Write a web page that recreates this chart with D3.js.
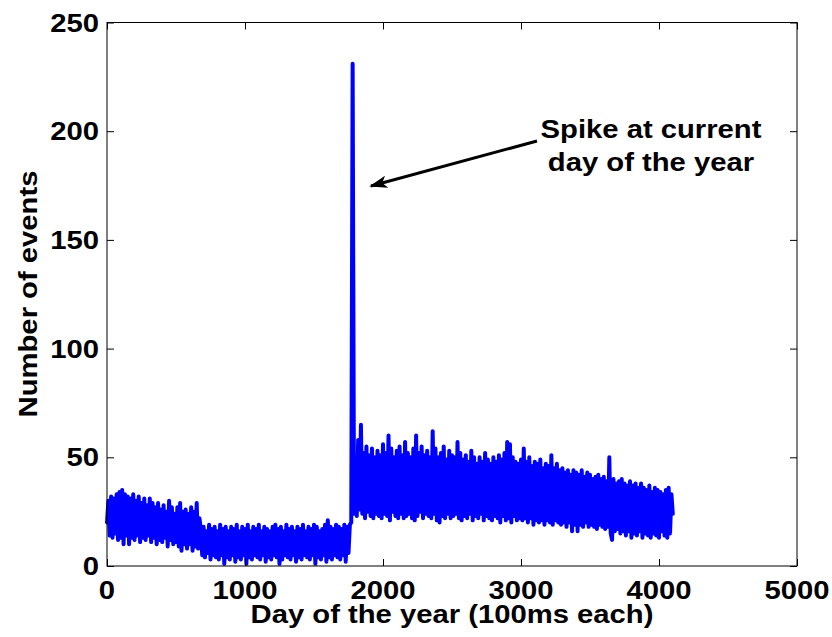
<!DOCTYPE html>
<html>
<head>
<meta charset="utf-8">
<script src="https://cdn.jsdelivr.net/npm/d3@7"></script>
<style>
  body { margin: 0; background: #fff; }
  text { font-family: "Liberation Sans", Arial, Helvetica, sans-serif; font-weight: bold; fill: #000; }
</style>
</head>
<body>
<div id="chart"></div>
<script>
// samples every 10 days
const dayStep = 10;
// days 0 - 670
const beforeDrop = [
  20, 30, 14, 32, 13, 31, 15, 33, 12, 34,
  13, 35, 10, 33, 14, 32, 10, 31, 13, 33,
  12, 30, 14, 32, 11, 29, 13, 31, 12, 28,
  14, 31, 11, 29, 13, 27, 10, 29, 12, 26,
  11, 28, 13, 25, 9, 30, 12, 27, 10, 24,
  11, 27, 9, 29, 7, 25, 10, 26, 8, 24,
  10, 27, 7, 25, 9, 29, 8, 22];
// days 680 - 1770
const lowPeriod = [
  17, 5, 18, 4, 16, 6, 19, 3, 17, 5,
  18, 4, 16, 3, 19, 5, 17, 1, 18, 4,
  16, 3, 18, 5, 17, 2, 19, 4, 16, 3,
  18, 5, 17, 1, 19, 4, 16, 3, 18, 5,
  17, 4, 19, 3, 16, 5, 18, 2, 17, 4,
  16, 3, 18, 5, 19, 4, 17, 1, 18, 3,
  16, 5, 19, 4, 17, 3, 18, 5, 16, 2,
  18, 4, 17, 3, 19, 5, 16, 4, 18, 3,
  17, 5, 19, 1, 18, 4, 16, 3, 17, 5,
  19, 2, 21, 4, 18, 3, 17, 5, 19, 4,
  18, 3, 17, 5, 19, 2, 18, 6, 19, 20];
// day 1780
const spikeValue = [231];
// days 1790 - 4100
const afterSpike = [
  24, 50, 23, 58, 26, 65, 24, 52, 22, 55,
  25, 51, 23, 54, 22, 50, 24, 53, 23, 51,
  22, 56, 24, 52, 23, 60, 21, 54, 25, 50,
  23, 53, 22, 55, 24, 51, 22, 57, 23, 52,
  24, 50, 22, 54, 21, 60, 23, 52, 25, 55,
  22, 51, 24, 53, 23, 50, 22, 62, 24, 54,
  21, 50, 20, 52, 23, 55, 22, 49, 24, 53,
  22, 51, 23, 50, 24, 57, 22, 52, 21, 49,
  23, 51, 22, 48, 24, 53, 21, 50, 23, 47,
  22, 50, 24, 48, 21, 52, 23, 49, 22, 47,
  21, 50, 23, 48, 22, 51, 20, 49, 23, 52,
  21, 57, 22, 56, 20, 50, 23, 48, 21, 47,
  22, 49, 21, 54, 22, 48, 20, 50, 22, 46,
  19, 48, 21, 47, 20, 49, 21, 45, 19, 47,
  21, 46, 20, 51, 19, 45, 21, 47, 20, 44,
  19, 45, 20, 43, 18, 44, 20, 42, 16, 44,
  19, 43, 16, 42, 19, 44, 18, 41, 20, 43,
  18, 42, 19, 40, 18, 41, 17, 42, 19, 40,
  18, 41, 17, 39, 18, 50, 15, 12, 40, 16,
  38, 17, 39, 15, 40, 16, 38, 14, 37, 16,
  39, 13, 37, 15, 38, 14, 36, 16, 38, 13,
  36, 15, 35, 14, 37, 13, 34, 15, 36, 14,
  35, 13, 34, 16, 33, 14, 35, 13, 36, 15,
  33, 24];

const counts = beforeDrop.concat(lowPeriod, spikeValue, afterSpike);

const xTicks = [0, 1000, 2000, 3000, 4000, 5000];
const yTicks = [0, 50, 100, 150, 200, 250];
const noteLines = ["Spike at current", "day of the year"];
// arrow from the note to the spike, in data units
const arrowFrom = {day: 3116, count: 195.5};
const arrowTo = {day: 1913, count: 174.8};

// dimensions and margins
const margin = {top: 22.5, right: 35, bottom: 71, left: 107},
    width = 832 - margin.left - margin.right,
    height = 637 - margin.top - margin.bottom;

const fontSize = "25px";
const stretch = 1.17; // the original lettering is a wide Helvetica

const svg = d3.select("#chart")
    .append("svg")
    .attr("width", 832)
    .attr("height", 637);
const g = svg.append("g")
    .attr("transform", `translate(${margin.left},${margin.top})`);

const x = d3.scaleLinear().domain([0, 5000]).range([0, width]);
const y = d3.scaleLinear().domain([0, 250]).range([height, 0]);

// data line
const line = d3.line()
    .x((d, i) => x(i * dayStep))
    .y(d => y(d));
g.append("path")
    .datum(counts)
    .attr("fill", "none")
    .attr("stroke", "#0000ff")
    .attr("stroke-width", 4)
    .attr("stroke-linejoin", "round")
    .attr("stroke-linecap", "round")
    .attr("d", line);

// box
g.append("rect")
    .attr("width", width)
    .attr("height", height)
    .attr("fill", "none")
    .attr("stroke", "#000")
    .attr("stroke-width", 1);

// inward ticks on all four sides
const tickLen = 7;
g.append("g")
    .attr("transform", `translate(0,${height})`)
    .call(d3.axisBottom(x).tickValues(xTicks).tickSize(-tickLen).tickFormat(""))
    .call(a => a.select(".domain").remove());
g.append("g")
    .call(d3.axisTop(x).tickValues(xTicks).tickSize(-tickLen).tickFormat(""))
    .call(a => a.select(".domain").remove());
g.append("g")
    .call(d3.axisLeft(y).tickValues(yTicks).tickSize(-tickLen).tickFormat(""))
    .call(a => a.select(".domain").remove());
g.append("g")
    .attr("transform", `translate(${width},0)`)
    .call(d3.axisRight(y).tickValues(yTicks).tickSize(-tickLen).tickFormat(""))
    .call(a => a.select(".domain").remove());

// tick labels
g.selectAll(".xlab")
    .data(xTicks)
    .enter().append("text")
    .attr("transform", d => `translate(${x(d)},${height + 33}) scale(${stretch},1)`)
    .attr("text-anchor", "middle")
    .style("font-size", fontSize)
    .text(d => d);
g.selectAll(".ylab")
    .data(yTicks)
    .enter().append("text")
    .attr("transform", d => `translate(-8,${y(d)}) scale(${stretch},1)`)
    .attr("dy", "0.36em")
    .attr("text-anchor", "end")
    .style("font-size", fontSize)
    .text(d => d);

// axis titles
svg.append("text")
    .attr("transform", `translate(${margin.left + width / 2},623) scale(${stretch},1)`)
    .attr("text-anchor", "middle")
    .style("font-size", fontSize)
    .text("Day of the year (100ms each)");
svg.append("text")
    .attr("transform", `translate(37,294) rotate(-90) scale(${stretch},1)`)
    .attr("text-anchor", "middle")
    .style("font-size", fontSize)
    .text("Number of events");

// annotation
svg.append("defs").append("marker")
    .attr("id", "head")
    .attr("viewBox", "0 0 10 10")
    .attr("refX", 9)
    .attr("refY", 5)
    .attr("markerWidth", 6)
    .attr("markerHeight", 6)
    .attr("markerUnits", "strokeWidth")
    .attr("orient", "auto")
    .append("path")
    .attr("d", "M0,1.5 L10,5 L0,8.5 L2.5,5 Z")
    .attr("fill", "#000");
g.append("line")
    .attr("x1", x(arrowFrom.day))
    .attr("y1", y(arrowFrom.count))
    .attr("x2", x(arrowTo.day))
    .attr("y2", y(arrowTo.count))
    .attr("stroke", "#000")
    .attr("stroke-width", 3)
    .attr("marker-end", "url(#head)");
svg.selectAll(".note")
    .data(noteLines)
    .enter().append("text")
    .attr("transform", (d, i) => `translate(651,${138 + i * 33}) scale(${stretch},1)`)
    .attr("text-anchor", "middle")
    .style("font-size", fontSize)
    .text(d => d);
</script>
</body>
</html>
